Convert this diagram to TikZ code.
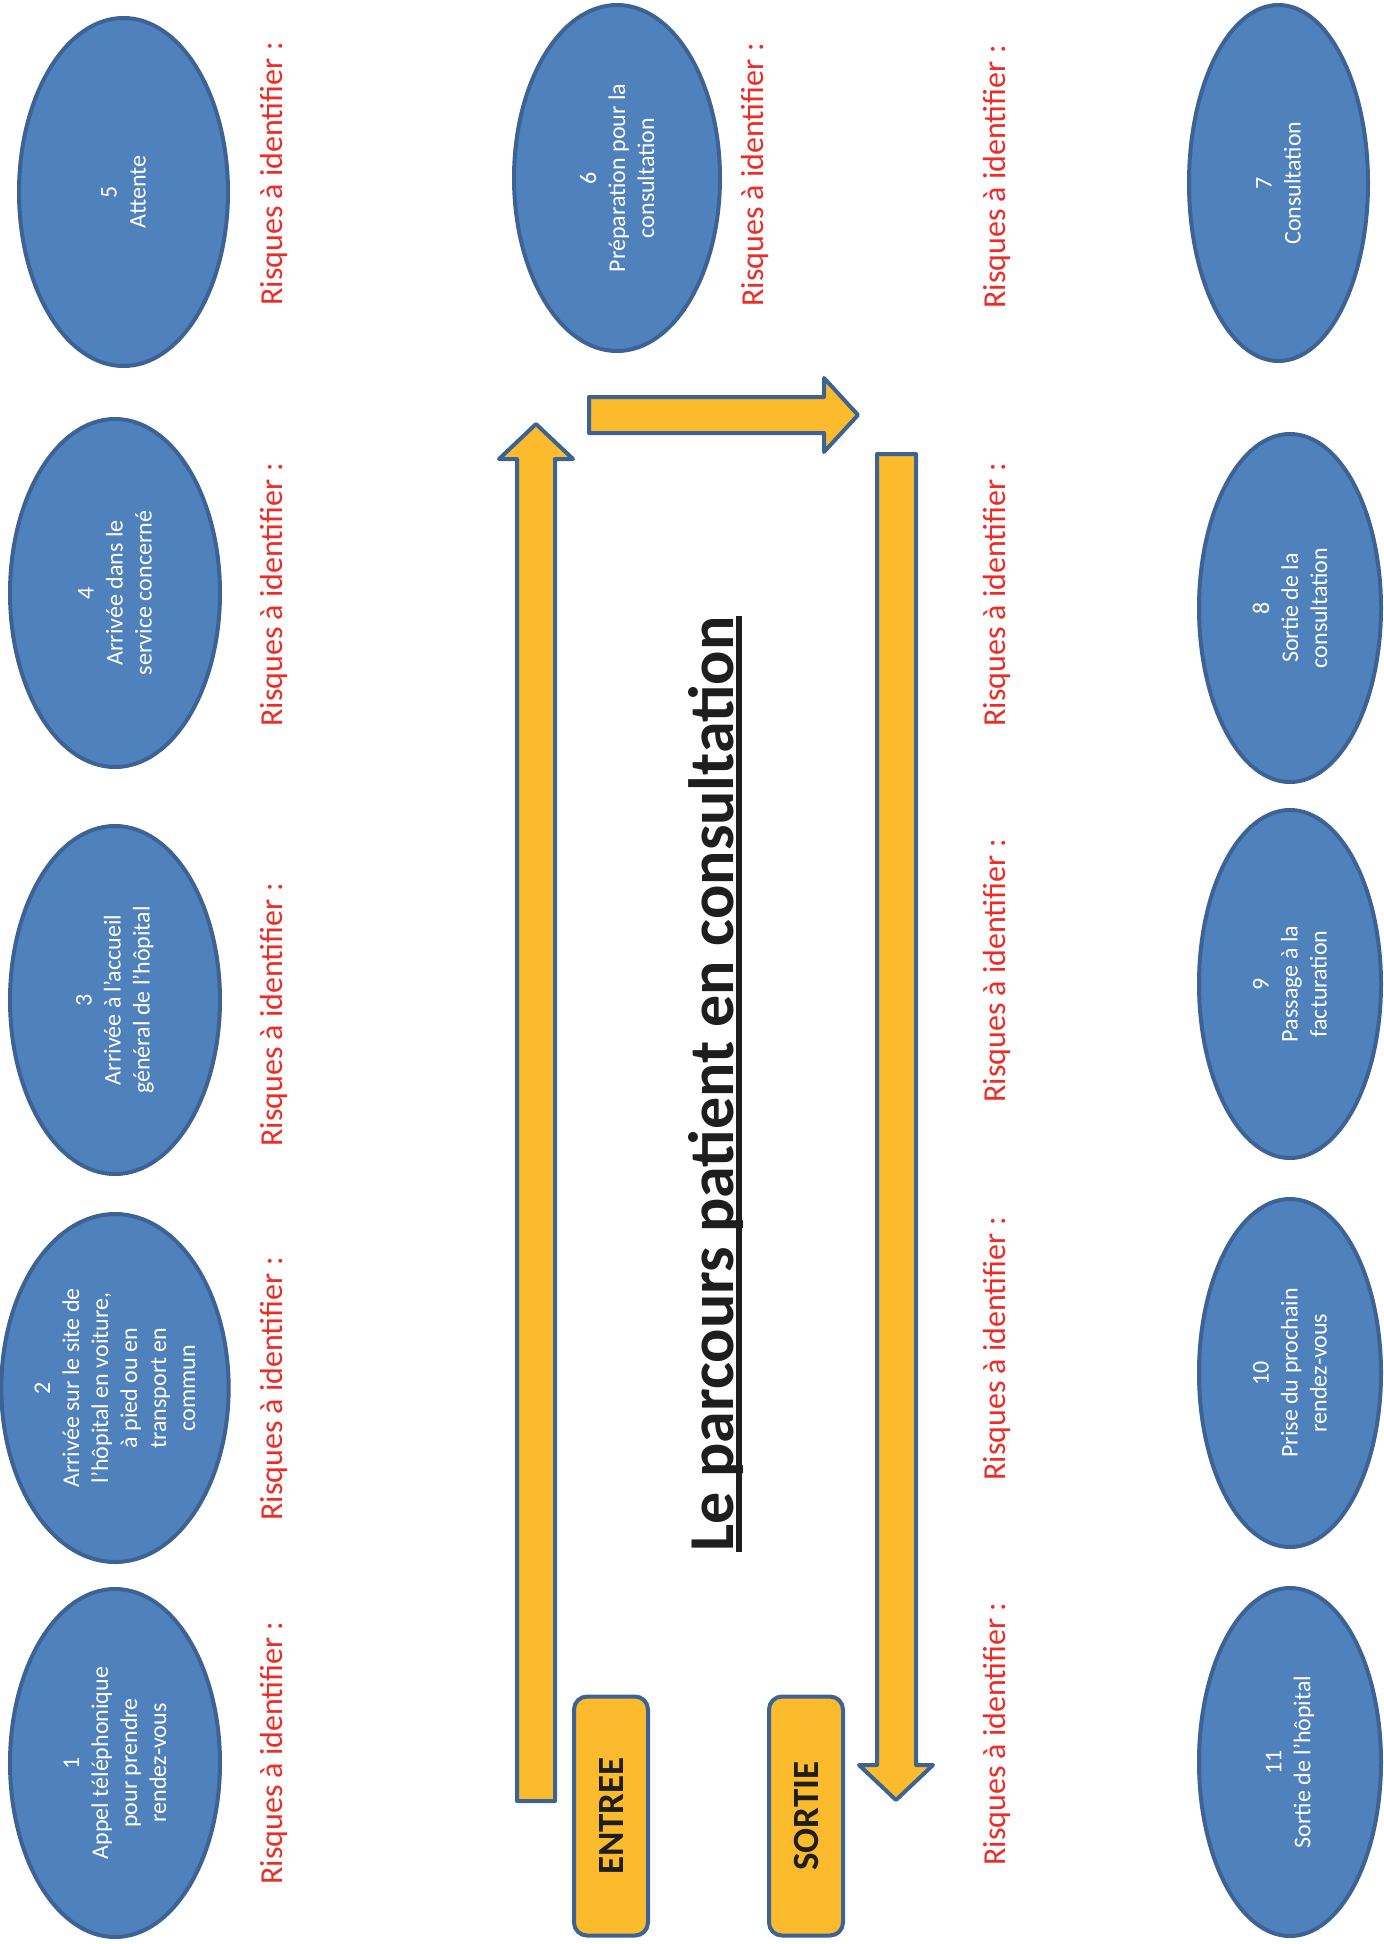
\documentclass[tikz,border=0pt]{standalone}
\usepackage{fontspec}
\setmainfont{Carlito}
\usetikzlibrary{shapes.geometric,calc}
\definecolor{stepfill}{HTML}{4F81BD}
\definecolor{stepline}{HTML}{3D6394}
\definecolor{flowfill}{HTML}{FCBB2C}
\definecolor{riskred}{HTML}{EE2B25}
\definecolor{titleink}{HTML}{1E1E1E}
\begin{document}
\begin{tikzpicture}[x=0.5pt,y=-0.5pt,
  stepnode/.style={ellipse, draw=stepline, fill=stepfill, line width=2pt,
    rotate=90, inner sep=0pt, text=white, align=center,
    minimum width=174pt, minimum height=105pt,
    font=\fontsize{12}{14.5}\selectfont},
  risk/.style={rotate=90, inner sep=0pt, text=riskred,
    font=\fontsize{16}{19}\selectfont},
  flow/.style={draw=stepline, fill=flowfill, line width=2pt, line join=round},
  tag/.style={draw=stepline, fill=flowfill, line width=2pt, rounded corners=6.5pt,
    rotate=90, minimum width=119.5pt, minimum height=37pt, inner sep=0pt,
    text=titleink, font=\bfseries\fontsize{18.5}{22}\selectfont},
  headline/.style={rotate=90, inner sep=0pt, text=titleink,
    font=\bfseries\fontsize{32}{38}\selectfont}]
\useasboundingbox (0,0) rectangle (1384,1944);

% outgoing path: steps 1 to 5
\node[stepnode] (s1) at (115,1763) {1\\Appel téléphonique\\pour prendre\\rendez-vous};
\node[stepnode] (s2) at (115,1388) {2\\Arrivée sur le site de\\l’hôpital en voiture,\\à pied ou en\\transport en\\commun};
\node[stepnode] (s3) at (115,1000) {3\\Arrivée à l’accueil\\général de l’hôpital};
\node[stepnode] (s4) at (115,593) {4\\Arrivée dans le\\service concerné};
\node[stepnode, minimum height=104.5pt] (s5) at (123.5,192) {5\\Attente};

% consultation steps
\node[stepnode, minimum height=103pt, minimum width=173pt] (s6) at (617,178) {6\\Préparation pour la\\consultation};
\node[stepnode, minimum height=89.5pt, minimum width=178pt] (s7) at (1278.5,183) {7\\Consultation};

% return path: steps 8 to 11
\node[stepnode, minimum height=91pt] (s8) at (1290,608) {8\\Sortie de la\\consultation};
\node[stepnode, minimum height=91pt] (s9) at (1290,984) {9\\Passage à la\\facturation};
\node[stepnode, minimum height=91pt] (s10) at (1290,1373) {10\\Prise du prochain\\rendez-vous};
\node[stepnode, minimum height=91pt] (s11) at (1290,1762) {11\\Sortie de l’hôpital};

% risk labels
\node[risk] (r1) at (274,1753) {Risques à identifier :};
\node[risk] (r2) at (274,1389) {Risques à identifier :};
\node[risk] (r3) at (274,1015) {Risques à identifier :};
\node[risk] (r4) at (274,595) {Risques à identifier :};
\node[risk] (r5) at (274,174) {Risques à identifier :};
\node[risk] (r6) at (755,175) {Risques à identifier :};
\node[risk] (r7) at (997,177) {Risques à identifier :};
\node[risk] (r8) at (997,595) {Risques à identifier :};
\node[risk] (r9) at (997,971) {Risques à identifier :};
\node[risk] (r10) at (997,1349) {Risques à identifier :};
\node[risk] (r11) at (997,1734) {Risques à identifier :};

% block arrows of the route
\draw[flow] (517,1801) -- (517,459) -- (499,459) -- (536,424) -- (573,459)
  -- (555,459) -- (555,1801) -- cycle;
\draw[flow] (589,397) -- (824,397) -- (824,378) -- (858,415) -- (824,452)
  -- (824,433) -- (589,433) -- cycle;
\draw[flow] (877,454) -- (916,454) -- (916,1765) -- (933,1765) -- (896,1800)
  -- (859,1765) -- (877,1765) -- cycle;

% entry and exit tags
\node[tag] (entree) at (611,1816) {ENTREE};
\node[tag] (sortie) at (806,1816) {SORTIE};

% title with its underline
\node[headline, anchor=base] (title) at (733,1084) {Le parcours patient en consultation};
\draw[titleink, line width=3pt] ($(title.base west)+(6,0)$) -- ($(title.base east)+(6,0)$);
\end{tikzpicture}
\end{document}
